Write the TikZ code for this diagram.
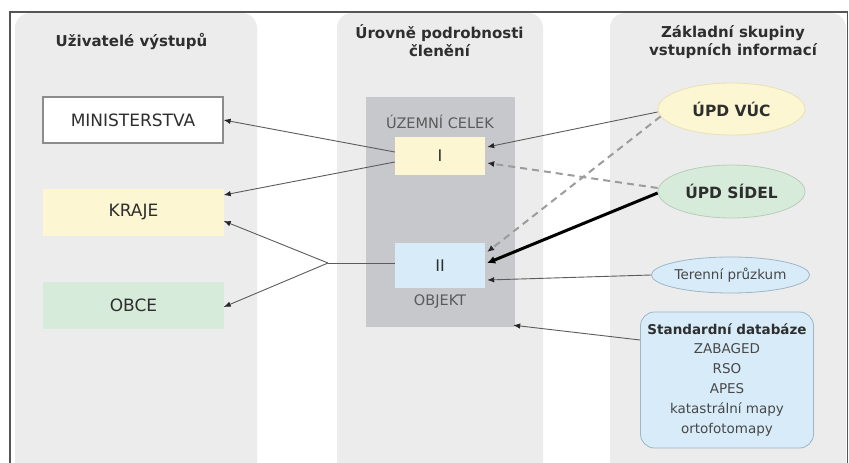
\documentclass[tikz,border=0pt]{standalone}
\usepackage{fontspec}
\setmainfont{DejaVu Sans}
\usetikzlibrary{arrows.meta,shapes.geometric}
\definecolor{colbg}{HTML}{ECECEC}
\definecolor{framec}{HTML}{555555}
\definecolor{innerbg}{HTML}{C7C8CB}
\definecolor{yelfill}{HTML}{FCF7D2}
\definecolor{yeldraw}{HTML}{E9E1B4}
\definecolor{grnfill}{HTML}{D7EBDA}
\definecolor{grndraw}{HTML}{B7CDB9}
\definecolor{blufill}{HTML}{D7ECF8}
\definecolor{bludraw}{HTML}{9DB5C6}
\definecolor{txtc}{HTML}{2E2E2E}
\definecolor{greytxt}{HTML}{5A5A5A}
\definecolor{arrowc}{HTML}{5C5C5C}
\definecolor{dashc}{HTML}{9C9C9C}
\tikzset{
  header/.style={font=\fontsize{15}{18}\selectfont\bfseries, text=txtc, align=center},
  userbox/.style={rectangle, minimum width=180pt, minimum height=46pt, inner sep=0pt,
    font=\fontsize{17}{20}\selectfont, text=txtc},
  levelbox/.style={rectangle, minimum width=90pt, inner sep=0pt,
    font=\fontsize{16}{19}\selectfont, text=txtc},
  levellabel/.style={font=\fontsize{14.5}{17}\selectfont, text=greytxt},
  source/.style={ellipse, minimum width=147pt, minimum height=52pt, inner sep=0pt,
    line width=0.8pt, font=\fontsize{15.5}{18}\selectfont\bfseries, text=txtc},
  conn/.style={draw=arrowc, line width=0.9pt, -{Latex[length=7pt,width=5.5pt,color=black!85]}},
  plainline/.style={draw=arrowc, line width=0.9pt},
  dashconn/.style={draw=dashc, line width=2pt, dash pattern=on 7pt off 5pt,
    -{Latex[length=7pt,width=6pt,color=black!85]}},
  thickconn/.style={draw=black, line width=3pt, -{Latex[length=8pt,width=8pt]}},
}
\begin{document}
\begin{tikzpicture}[x=1pt,y=-1pt]
\useasboundingbox (0,0) rectangle (849,463);
\clip (0,0) rectangle (849,463);
\fill[white] (0,0) rectangle (849,463);
% column backgrounds
\fill[colbg, rounded corners=15pt] (15,13) rectangle (257,490);
\fill[colbg, rounded corners=15pt] (337,13) rectangle (543,490);
\fill[colbg, rounded corners=15pt] (610,13) rectangle (846,490);
% frame
\draw[framec, line width=1.5pt] (10,475) -- (10,12) -- (847.5,12) -- (847.5,475);
% headers
\node[header] (h1) at (131.5,42) {Uživatelé výstupů};
\node[header] (h2) at (439.5,41) {Úrovně podrobnosti\\členění};
\node[header] (h3) at (733,42) {Základní skupiny\\vstupních informací};
% users
\node[userbox, fill=white, draw=black!45, line width=1.2pt] (min) at (133,120) {MINISTERSTVA};
\node[userbox, fill=yelfill, draw=yelfill] (kraje) at (133.5,212.5) {KRAJE};
\node[userbox, fill=grnfill, draw=grnfill] (obce) at (133.5,305.5) {OBCE};
% levels
\node[rectangle, fill=innerbg, minimum width=149pt, minimum height=230pt, inner sep=0pt] (inner) at (440.5,212) {};
\node[levellabel] (uc) at (440,122) {ÚZEMNÍ CELEK};
\node[levelbox, fill=yelfill, minimum height=38pt] (i) at (440,156) {I};
\node[levelbox, fill=blufill, minimum height=45pt] (ii) at (440,265.5) {II};
\node[levellabel] (obj) at (440,302) {OBJEKT};
% sources
\node[source, fill=yelfill, draw=yeldraw] (vuc) at (731.5,109) {ÚPD VÚC};
\node[source, fill=grnfill, draw=grndraw, minimum height=53pt] (sidel) at (731.5,191.5) {ÚPD SÍDEL};
\node[source, fill=blufill, draw=bludraw, minimum width=145pt, minimum height=36pt,
  font=\fontsize{13.5}{16}\selectfont, text=greytxt!80!black] (teren) at (730.5,275) {Terenní průzkum};
\node[rectangle, rounded corners=14pt, fill=blufill, draw=bludraw, line width=0.8pt,
  minimum width=173pt, minimum height=136pt, inner sep=0pt, align=center,
  font=\fontsize{13.5}{20}\selectfont, text=greytxt!80!black] (db) at (727,380)
  {{\bfseries\color{txtc}Standardní databáze}\\ZABAGED\\RSO\\APES\\katastrální mapy\\ortofotomapy};
% connectors to users
\coordinate (j) at (328,263);
\draw[conn] ([yshift=4pt]i.west) -- (min.east);
\draw[conn] ([yshift=-6pt]i.west) -- ([yshift=17.5pt]kraje.east);
\draw[plainline] ([yshift=2.5pt]ii.west) -- (j);
\draw[conn] (j) -- ([yshift=-8.5pt]kraje.east);
\draw[conn] (j) -- ([yshift=-1.5pt]obce.east);
% connectors from sources
\draw[conn] ([yshift=-3pt]vuc.west) -- ([xshift=2pt,yshift=9pt]i.east);
\draw[dashconn] ([yshift=3.5pt]sidel.west) -- ([xshift=2pt,yshift=-7pt]i.east);
\draw[dashconn] (vuc.186) -- ([xshift=2pt,yshift=13.5pt]ii.east);
\draw[thickconn] ([yshift=-1.5pt]sidel.west) -- ([xshift=2pt,yshift=2.5pt]ii.east);
\draw[conn] (teren.west) -- ([xshift=2pt,yshift=-14.5pt]ii.east);
\draw[conn] ([yshift=40pt]db.west) -- ([xshift=-2pt,yshift=2pt]inner.south east);
\end{tikzpicture}
\end{document}
